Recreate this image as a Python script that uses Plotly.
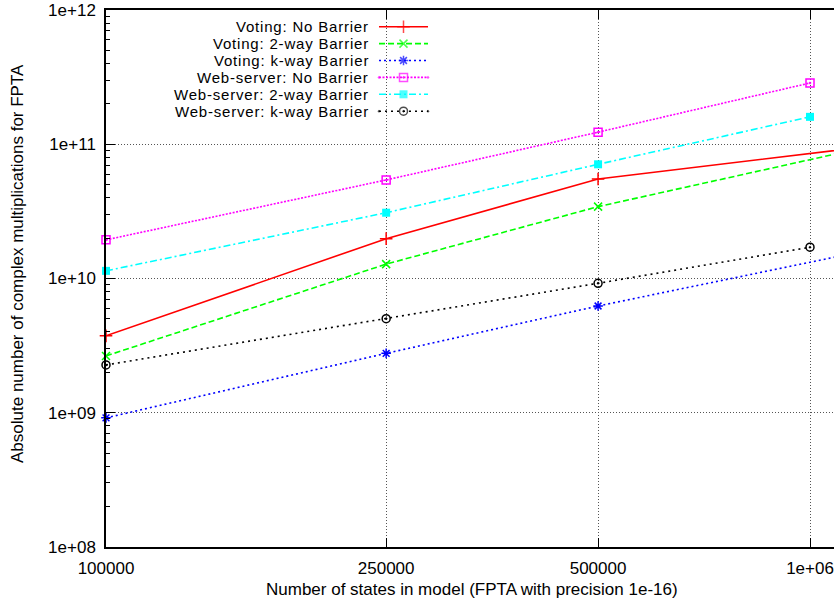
import plotly.graph_objects as go

# ---------------- data ----------------
x_web = [1e5, 2.5e5, 5e5, 1e6]
x_vot = [1e5, 2.5e5, 5e5, 2e6]

vot_none = [3.74e9, 1.98e10, 5.51e10, 1.32e11]
vot_2way = [2.65e9, 1.28e10, 3.43e10, 1.72e11]
vot_kway = [9.16e8, 2.77e9, 6.24e9, 2.80e10]
web_none = [1.94e10, 5.42e10, 1.23e11, 2.86e11]
web_2way = [1.14e10, 3.09e10, 7.09e10, 1.60e11]
web_kway = [2.27e9, 5.02e9, 9.21e9, 1.71e10]

names = [
    "Voting: No Barrier",
    "Voting: 2-way Barrier",
    "Voting: k-way Barrier",
    "Web-server: No Barrier",
    "Web-server: 2-way Barrier",
    "Web-server: k-way Barrier",
]

x_tickvals = [1e5, 2.5e5, 5e5, 1e6]
x_ticktext = ["100000", "250000", "500000", "1e+06"]
y_tickvals = [1e8, 1e9, 1e10, 1e11, 1e12]
y_ticktext = ["1e+08", "1e+09", "1e+10", "1e+11", "1e+12"]
y_minor = [k * 10 ** n for n in range(8, 12) for k in range(2, 10)]

# ---------------- styles ----------------
FONT = "Liberation Sans, Arial, sans-serif"
FS = 17
KEY_FS = 15
W, H = 834, 601
L, R, T, B = 106, 0, 10, 54
PW, PH = W - L - R, H - T - B

styles = [
    dict(color="#ff0000", dash="solid", symbol="cross-thin", size=9, mlw=1.5),
    dict(color="#00ff00", dash="6px,3px", symbol="x-thin", size=8, mlw=1.5),
    dict(color="#0000ff", dash="2px,3px", symbol="asterisk", size=8, mlw=1.5),
    dict(color="#ff00ff", dash="2px,1.5px", symbol="square-open-dot", size=8, mlw=1.5),
    dict(color="#00ffff", dash="7px,3px,2px,3px", symbol="square", size=8, mlw=0),
    dict(color="#000000", dash="2px,4px", symbol="circle-open-dot", size=8, mlw=1.5),
]

series = [
    (x_vot, vot_none),
    (x_vot, vot_2way),
    (x_vot, vot_kway),
    (x_web, web_none),
    (x_web, web_2way),
    (x_web, web_kway),
]

fig = go.Figure()

for (xs, ys), nm, st in zip(series, names, styles):
    fig.add_trace(go.Scatter(
        x=xs, y=ys, name=nm, mode="lines+markers",
        line=dict(color=st["color"], width=1.6, dash=st["dash"]),
        marker=dict(symbol=st["symbol"], size=st["size"], color=st["color"],
                    line=dict(color=st["color"], width=st["mlw"])),
        cliponaxis=False, showlegend=False,
    ))

# ---------------- custom gnuplot-style key (text left of sample) ----------------
KEY_TEXT_RIGHT = 370
KEY_LINE_X0, KEY_LINE_X1 = 379, 428
KEY_ROW0, KEY_STEP = 26.7, 16.9

annotations = []
for i, (nm, st) in enumerate(zip(names, styles)):
    yrow = KEY_ROW0 + i * KEY_STEP
    xm = (KEY_LINE_X0 + KEY_LINE_X1) / 2
    fig.add_trace(go.Scatter(
        x=[KEY_LINE_X0, xm, KEY_LINE_X1], y=[yrow, yrow, yrow],
        xaxis="x2", yaxis="y2", mode="lines+markers",
        line=dict(color=st["color"], width=1.6, dash=st["dash"]),
        marker=dict(symbol=st["symbol"], size=[0, st["size"], 0], color=st["color"],
                    line=dict(color=st["color"], width=st["mlw"])),
        showlegend=False, hoverinfo="skip",
    ))
    annotations.append(dict(
        x=KEY_TEXT_RIGHT, y=yrow, xref="x2", yref="y2",
        text='<span style="letter-spacing:0.8px">' + nm + "</span>",
        xanchor="right", yanchor="middle", showarrow=False, borderpad=0,
        font=dict(family=FONT, size=KEY_FS, color="black"),
    ))

def px(xp):
    return (xp - L) / PW

def py(yp):
    return (H - B - yp) / PH

annotations.append(dict(
    x=px(472), y=py(589), xref="paper", yref="paper",
    text="Number of states in model (FPTA with precision 1e-16)",
    showarrow=False, xanchor="center", yanchor="middle",
    font=dict(family=FONT, size=FS, color="black"),
))
annotations.append(dict(
    x=px(17), y=py(264), xref="paper", yref="paper",
    text="Absolute number of complex multiplications for FPTA",
    showarrow=False, xanchor="center", yanchor="middle", textangle=-90,
    font=dict(family=FONT, size=FS, color="black"),
))

fig.update_layout(
    width=W, height=H,
    margin=dict(l=L, r=R, t=T, b=B, pad=0),
    paper_bgcolor="white", plot_bgcolor="white",
    font=dict(family=FONT, size=FS, color="black"),
    showlegend=False,
    annotations=annotations,
    xaxis=dict(
        type="log", range=[5, 5 + (W - L) / 704.0],
        tickmode="array", tickvals=x_tickvals, ticktext=x_ticktext,
        ticks="inside", ticklen=9, tickwidth=1, tickcolor="black",
        showline=True, linecolor="black", linewidth=1.5, mirror="ticks",
        showgrid=True, gridcolor="#555555", gridwidth=1, griddash="1px,2px",
        zeroline=False, ticklabelstandoff=5, ticklabeloverflow="allow",
        tickfont=dict(family=FONT, size=FS, color="black"),
    ),
    yaxis=dict(
        type="log", range=[8, 12],
        tickmode="array", tickvals=y_tickvals, ticktext=y_ticktext,
        ticks="inside", ticklen=9, tickwidth=1, tickcolor="black",
        minor=dict(tickmode="array", tickvals=y_minor, ticks="inside",
                   ticklen=4, tickwidth=1, tickcolor="black", showgrid=False),
        showline=True, linecolor="black", linewidth=1.5, mirror=False,
        showgrid=True, gridcolor="#555555", gridwidth=1, griddash="1px,2px",
        zeroline=False, ticklabelstandoff=5,
        tickfont=dict(family=FONT, size=FS, color="black"),
    ),
    xaxis2=dict(overlaying="x", anchor="y2", range=[L, W], visible=False,
                domain=[0, 1]),
    yaxis2=dict(overlaying="y", anchor="x2", range=[H - B, T], visible=False,
                domain=[0, 1]),
)

fig.write_html(
    "out.html",
    config={"displayModeBar": False},
    post_script="document.body.style.margin='0';document.body.style.overflow='hidden';",
)
